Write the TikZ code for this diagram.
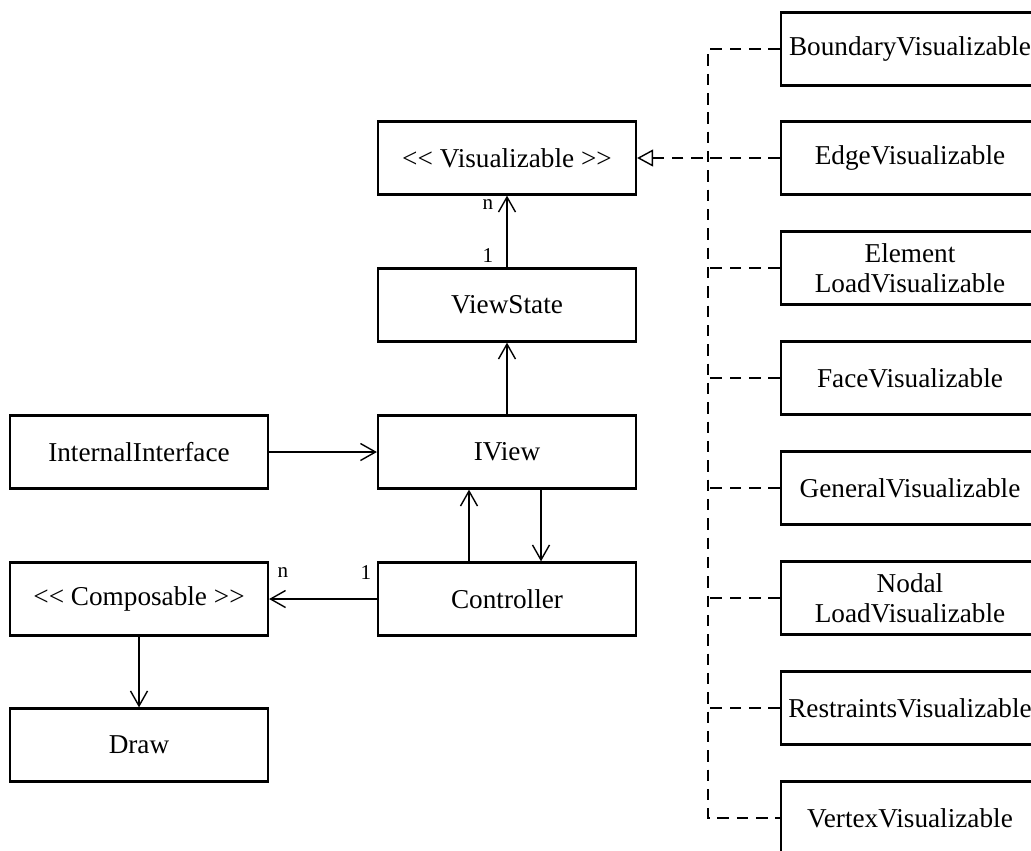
\documentclass[tikz,border=0pt]{standalone}
\usepackage{fontspec}
\setmainfont{Liberation Serif}
\usetikzlibrary{arrows.meta}

\tikzset{
  cls/.style={draw, line width=1.3pt, minimum width=5.16cm, minimum height=1.46cm,
              inner sep=2pt, align=center, font=\fontsize{15.5}{17}\selectfont},
  assoc/.style={line width=0.8pt, -{Straight Barb[length=3mm, width=3.4mm]}},
  real/.style={line width=0.8pt, dash pattern=on 6.5pt off 4.5pt},
  mult/.style={font=\fontsize{12}{13}\selectfont, inner sep=1pt}
}
\newcommand{\stereo}[1]{{<}{<} #1 {>}{>}}

\begin{document}
\begin{tikzpicture}[x=0.02cm, y=-0.02cm]
  \useasboundingbox (0,0) rectangle (1031,850);

  % core classes
  \node[cls] (vis)    at (507,158) {\stereo{Visualizable}};
  \node[cls] (vstate) at (507,305) {ViewState};
  \node[cls] (iview)  at (507,452) {IView};
  \node[cls] (ctrl)   at (507,599) {Controller};
  \node[cls] (inter)  at (139,452) {InternalInterface};
  \node[cls] (comp)   at (139,599) {\stereo{Composable}};
  \node[cls] (draw)   at (139,745) {Draw};

  % visualizable implementations
  \node[cls] (bound) at (910,49)  {BoundaryVisualizable};
  \node[cls] (edge)  at (910,158) {EdgeVisualizable};
  \node[cls] (elem)  at (910,268) {Element\\LoadVisualizable};
  \node[cls] (face)  at (910,378) {FaceVisualizable};
  \node[cls] (gen)   at (910,488) {GeneralVisualizable};
  \node[cls] (nodal) at (910,598) {Nodal\\LoadVisualizable};
  \node[cls] (restr) at (910,708) {RestraintsVisualizable};
  \node[cls] (vert)  at (910,818) {VertexVisualizable};

  % associations
  \draw[assoc] (vstate) -- (vis);
  \draw[assoc] (iview) -- (vstate);
  \draw[assoc] (inter) -- (iview);
  \draw[assoc] (ctrl.north -| 469,0) -- (iview.south -| 469,0);
  \draw[assoc] (iview.south -| 541,0) -- (ctrl.north -| 541,0);
  \draw[assoc] (ctrl) -- (comp);
  \draw[assoc] (comp) -- (draw);

  % multiplicities
  \node[mult] (vn) at (488,205) {n};
  \node[mult] (v1) at (488,256) {1};
  \node[mult] (cn) at (283,573) {n};
  \node[mult] (c1) at (366,573) {1};

  % realization lines
  \coordinate (top) at (708,49);
  \coordinate (bot) at (708,818);
  \draw[real] (bound.west) -- (top) -- (bot) -- (vert.west);
  \foreach \n in {elem,face,gen,nodal,restr}
    \draw[real] (\n.west) -- (\n.west -| top);
  \draw[real, -{Triangle[open, length=3.2mm, width=3.4mm, line width=0.8pt]}] (edge) -- (vis);
\end{tikzpicture}
\end{document}
